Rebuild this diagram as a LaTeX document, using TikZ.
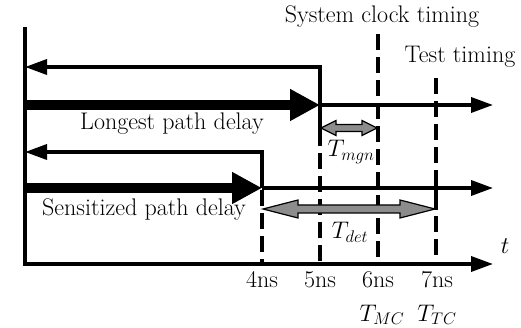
\documentclass[tikz,border=0pt]{standalone}
\usepackage{fix-cm}
\usetikzlibrary{arrows.meta}
\begin{document}
\begin{tikzpicture}[x=1pt,y=-1pt,
  sig/.style={line width=3.5pt, line join=miter},
  sigarr/.style={sig, -{Triangle[length=22pt,width=15pt]}},
  fatarr/.style={line width=10pt, -{Triangle[length=30pt,width=30pt]}},
  tdash/.style={line width=4pt, dash pattern=on 16pt off 7pt},
  ext/.style={line width=4pt},
  dimarrow/.style={draw=black, line width=1.2pt, fill=black!45, line join=miter},
  lab/.style={font=\fontsize{24}{28}\selectfont, inner sep=0pt, anchor=base}]
\useasboundingbox (0,0) rectangle (521,328);

% key coordinates
\coordinate (top) at (25,27);
\coordinate (o) at (25,264);
\coordinate (tend) at (493,264);
\coordinate (A0) at (25,105);
\coordinate (A1) at (320,105);
\coordinate (A1u) at (320,67);
\coordinate (A0u) at (25,67);
\coordinate (Aend) at (493,105);
\coordinate (B0) at (25,188);
\coordinate (B1) at (262,188);
\coordinate (B1u) at (262,152);
\coordinate (B0u) at (25,152);
\coordinate (Bend) at (493,188);
\coordinate (d4t) at (262,190);
\coordinate (d4b) at (262,264);
\coordinate (d5t) at (320,107);
\coordinate (d5b) at (320,264);
\coordinate (d6t) at (378,34);
\coordinate (d6b) at (378,264);
\coordinate (d7t) at (436,78);
\coordinate (d7b) at (436,264);

% dashed timing lines
\draw[tdash] (d4t) -- (d4b);
\draw[tdash] (d5t) -- (d5b);
\draw[tdash] (d6t) -- (d6b);
\draw[tdash] (d7t) -- (d7b);
\draw[ext] (320,105) -- (320,131);
\draw[ext] (436,188) -- (436,210);

% axis
\draw[sigarr] (top) -- (o) -- (tend);

% longest path
\draw[sigarr] (A1) -- (A1u) -- (A0u);
\draw[sigarr] (A1) -- (Aend);
\draw[fatarr] (A0) -- (A1);

% sensitized path
\draw[sigarr] (B1) -- (B1u) -- (B0u);
\draw[sigarr] (B1) -- (Bend);
\draw[fatarr] (B0) -- (B1);

% T_mgn arrow
\filldraw[dimarrow] (321,128) -- (336,120.5) -- (336,124.5) -- (362,124.5) -- (362,120.5)
  -- (377,128) -- (362,135.5) -- (362,131.5) -- (336,131.5) -- (336,135.5) -- cycle;
% T_det arrow
\filldraw[dimarrow] (263,209) -- (298,200) -- (298,205) -- (400,205) -- (400,200)
  -- (435,209) -- (400,218) -- (400,213) -- (298,213) -- (298,218) -- cycle;

% labels
\node[lab] (sys) at (382,23) {System clock timing};
\node[lab] (test) at (460,63) {Test timing};
\node[lab] (lpd) at (172,130) {Longest path delay};
\node[lab] (spd) at (144,216) {Sensitized path delay};
\node[lab] (tmgn) at (351,157) {$T_{mgn}$};
\node[lab] (tdet) at (350,239) {$T_{det}$};
\node[lab] (t) at (505,254) {$t$};
\node[lab] (n4) at (262,287) {4ns};
\node[lab] (n5) at (320,287) {5ns};
\node[lab] (n6) at (378,287) {6ns};
\node[lab] (n7) at (437,287) {7ns};
\node[lab] (tmc) at (382,321) {$T_{MC}$};
\node[lab] (ttc) at (437,321) {$T_{TC}$};
\end{tikzpicture}
\end{document}
